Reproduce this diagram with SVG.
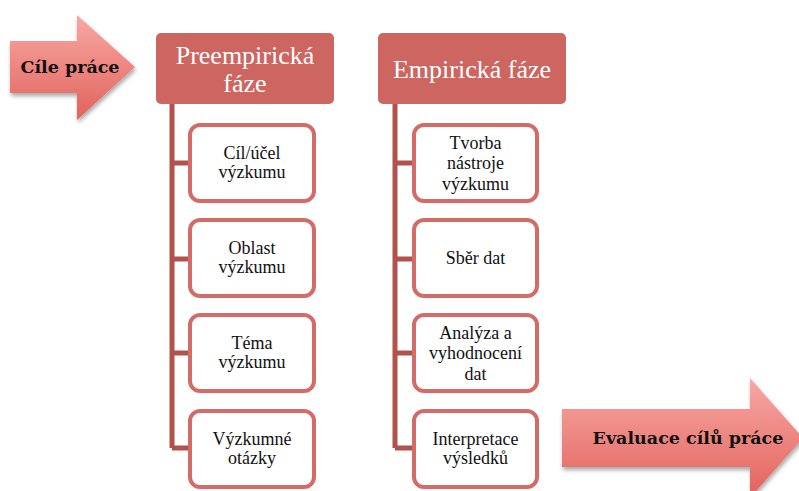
<svg xmlns="http://www.w3.org/2000/svg" width="799" height="491" viewBox="0 0 799 491">
<defs>
<linearGradient id="ag" x1="0" y1="0" x2="0" y2="1">
<stop offset="0" stop-color="#f8a9a4"/>
<stop offset="1" stop-color="#e2625c"/>
</linearGradient>
<filter id="sh" x="-10%" y="-10%" width="125%" height="130%">
<feGaussianBlur in="SourceAlpha" stdDeviation="2"/>
<feOffset dx="1" dy="3" result="b"/>
<feComponentTransfer><feFuncA type="linear" slope="0.35"/></feComponentTransfer>
<feMerge><feMergeNode/><feMergeNode in="SourceGraphic"/></feMerge>
</filter>
</defs>
<style>
.hdr{fill:#cd6661;}
.ht{font-family:"Liberation Serif",serif;font-size:26px;fill:#ffffff;text-anchor:middle;}
.box{fill:#ffffff;stroke:#d36c66;stroke-width:4;}
.bt{font-family:"Liberation Serif",serif;font-size:18px;fill:#111111;text-anchor:middle;}
.con{stroke:#b1524d;stroke-width:5;fill:none;}
.arr{fill:url(#ag);filter:url(#sh);}
.at{font-family:"DejaVu Serif","Liberation Serif",serif;font-weight:bold;font-size:17.5px;fill:#111111;text-anchor:middle;}
</style>
<g id="connectors">
<path class="con" d="M172,104 V448 M172,163 H190 M172,259 H190 M172,353 H190 M172,448 H190"/>
<path class="con" d="M395,104 V448 M395,163 H414 M395,259 H414 M395,353 H414 M395,448 H414"/>
</g>
<g id="arrow-cile">
<polygon class="arr" points="10,41 77,41 77,15 135,67 77,120 77,93 10,93"/>
<text class="at" x="70" y="73">Cíle práce</text>
</g>
<g id="arrow-evaluace">
<polygon class="arr" points="562,409 750,409 750,378 803,438 750,498 750,467 562,467"/>
<text class="at" x="688" y="444">Evaluace cílů práce</text>
</g>
<g id="preempiricka">
<rect class="hdr" x="156" y="33" width="178" height="71" rx="5"/>
<text class="ht" x="245" y="64">Preempirická</text>
<text class="ht" x="245" y="92">fáze</text>
</g>
<g id="empiricka">
<rect class="hdr" x="378" y="33" width="188" height="71" rx="5"/>
<text class="ht" x="472" y="78">Empirická fáze</text>
</g>
<g id="cil">
<rect class="box" x="190" y="125" width="124" height="76" rx="10"/>
<text class="bt" x="252" y="159">Cíl/účel</text>
<text class="bt" x="252" y="178">výzkumu</text>
</g>
<g id="oblast">
<rect class="box" x="190" y="220" width="124" height="76" rx="10"/>
<text class="bt" x="252" y="254">Oblast</text>
<text class="bt" x="252" y="273">výzkumu</text>
</g>
<g id="tema">
<rect class="box" x="190" y="315" width="124" height="76" rx="10"/>
<text class="bt" x="252" y="349">Téma</text>
<text class="bt" x="252" y="368">výzkumu</text>
</g>
<g id="otazky">
<rect class="box" x="190" y="411" width="124" height="76" rx="10"/>
<text class="bt" x="252" y="445">Výzkumné</text>
<text class="bt" x="252" y="464">otázky</text>
</g>
<g id="tvorba">
<rect class="box" x="414" y="125" width="123" height="76" rx="10"/>
<text class="bt" x="475.5" y="149">Tvorba</text>
<text class="bt" x="475.5" y="169">nástroje</text>
<text class="bt" x="475.5" y="190">výzkumu</text>
</g>
<g id="sber">
<rect class="box" x="414" y="220" width="123" height="76" rx="10"/>
<text class="bt" x="475.5" y="264">Sběr dat</text>
</g>
<g id="analyza">
<rect class="box" x="414" y="315" width="123" height="76" rx="10"/>
<text class="bt" x="475.5" y="339">Analýza a</text>
<text class="bt" x="475.5" y="359">vyhodnocení</text>
<text class="bt" x="475.5" y="380">dat</text>
</g>
<g id="interpretace">
<rect class="box" x="414" y="411" width="123" height="76" rx="10"/>
<text class="bt" x="475.5" y="445">Interpretace</text>
<text class="bt" x="475.5" y="464">výsledků</text>
</g>
</svg>
